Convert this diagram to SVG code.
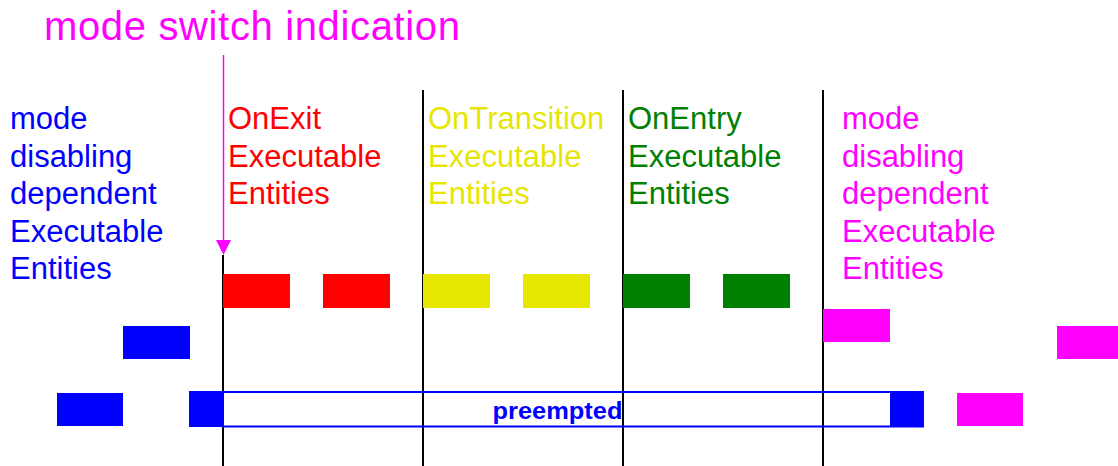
<svg xmlns="http://www.w3.org/2000/svg" width="1118" height="466" viewBox="0 0 1118 466">
<style>
text{font-family:"Liberation Sans",Arial,sans-serif}
.lbl{font-size:31px}
.vl{stroke:#000;stroke-width:2;fill:none}
.b{fill:#0000ff}.r{fill:#ff0000}.y{fill:#e6e600}.g{fill:#008000}.m{fill:#ff00ff}
</style>
<rect width="1118" height="466" fill="#fff"/>
<g id="title"><text x="44" y="40" font-size="40" fill="#ff00ff" textLength="416">mode switch indication</text></g>
<g id="connectors">
<line class="vl" x1="223" y1="255" x2="223" y2="466"/>
<line class="vl" x1="423" y1="90" x2="423" y2="466"/>
<line class="vl" x1="623" y1="90" x2="623" y2="466"/>
<line class="vl" x1="823" y1="90" x2="823" y2="466"/>
<line x1="223.5" y1="55" x2="223.5" y2="241" stroke="#ff00ff" stroke-width="1.5"/>
<polygon points="216,240 231,240 223.5,255" fill="#ff00ff"/>
</g>
<g id="label-left" class="lbl" fill="#0000ff">
<text x="10" y="129">mode</text>
<text x="10" y="166.5">disabling</text>
<text x="10" y="204">dependent</text>
<text x="10" y="241.5">Executable</text>
<text x="10" y="279">Entities</text>
</g>
<g id="label-onexit" class="lbl" fill="#ff0000">
<text x="228" y="129">OnExit</text>
<text x="228" y="166.5">Executable</text>
<text x="228" y="204">Entities</text>
</g>
<g id="label-ontransition" class="lbl" fill="#e6e600">
<text x="428" y="129">OnTransition</text>
<text x="428" y="166.5">Executable</text>
<text x="428" y="204">Entities</text>
</g>
<g id="label-onentry" class="lbl" fill="#008000">
<text x="628" y="129">OnEntry</text>
<text x="628" y="166.5">Executable</text>
<text x="628" y="204">Entities</text>
</g>
<g id="label-right" class="lbl" fill="#ff00ff">
<text x="842" y="129">mode</text>
<text x="842" y="166.5">disabling</text>
<text x="842" y="204">dependent</text>
<text x="842" y="241.5">Executable</text>
<text x="842" y="279">Entities</text>
</g>
<g id="red-boxes"><rect class="r" x="223" y="274" width="67" height="34"/><rect class="r" x="323" y="274" width="67" height="34"/></g>
<g id="yellow-boxes"><rect class="y" x="423" y="274" width="67" height="34"/><rect class="y" x="523" y="274" width="67" height="34"/></g>
<g id="green-boxes"><rect class="g" x="623" y="274" width="67" height="34"/><rect class="g" x="723" y="274" width="67" height="34"/></g>
<g id="magenta-boxes"><rect class="m" x="823" y="309" width="67" height="33"/><rect class="m" x="1057" y="326" width="61" height="33"/><rect class="m" x="957" y="393" width="66" height="33"/></g>
<g id="blue-boxes"><rect class="b" x="123" y="326" width="67" height="33"/><rect class="b" x="57" y="393" width="66" height="33"/></g>
<g id="preempted">
<rect x="223" y="392" width="700" height="34.5" fill="none" stroke="#0000ff" stroke-width="2"/>
<rect class="b" x="189" y="391" width="34" height="36"/>
<rect class="b" x="890" y="392" width="33" height="34"/>
<text x="492.5" y="418.5" font-size="23" font-weight="bold" fill="#0000ff" textLength="130" lengthAdjust="spacingAndGlyphs">preempted</text>
</g>
</svg>
